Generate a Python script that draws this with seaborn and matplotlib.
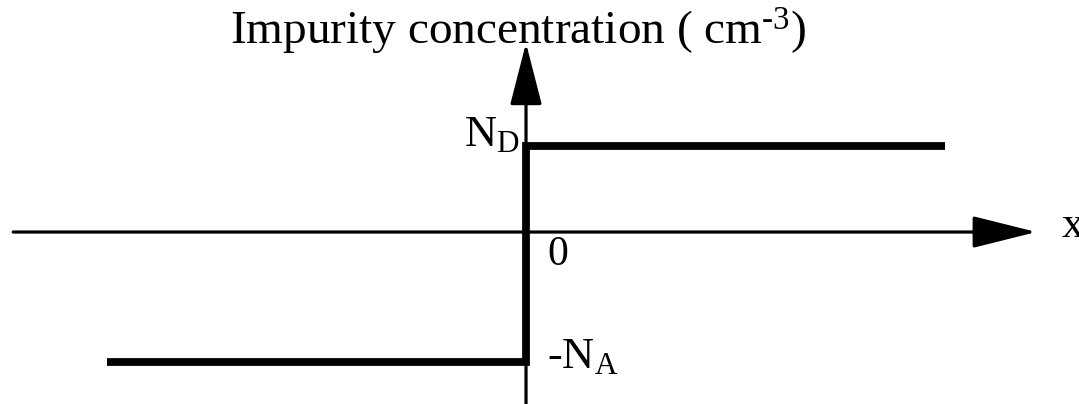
import matplotlib
matplotlib.use("Agg")
import matplotlib.pyplot as plt
import seaborn as sns
import pandas as pd

# ---- data (relative units) ----
position = [-1.0, 0.0, 0.0, 1.0]          # x position (junction at 0)
concentration = [-1.5, -1.5, 1.0, 1.0]    # -N_A on p side, N_D on n side
N_D = 1.0
N_A = 1.5
title_text = r"Impurity concentration ( cm$^{\text{-}3}$)"
label_ND = r"N$_\mathrm{D}$"
label_NA = r"-N$_\mathrm{A}$"
label_zero = "0"
label_x = "x"

sns.set_style("white")
plt.rcParams["font.family"] = ["Liberation Serif", "DejaVu Serif"]
plt.rcParams["mathtext.fontset"] = "custom"
plt.rcParams["mathtext.rm"] = "Liberation Serif"
plt.rcParams["mathtext.it"] = "Liberation Serif:italic"
plt.rcParams["text.color"] = "black"

fig = plt.figure(figsize=(10.79, 4.04), dpi=100)
ax = fig.add_axes([0, 0, 1, 1])
ax.set_xlim(-1.2554, 1.3198)
ax.set_ylim(-1.988, 2.682)
ax.axis("off")

# axes with arrows
ax.annotate("", xy=(1.218, 0), xytext=(-1.224, 0),
            arrowprops=dict(arrowstyle="-|>,head_length=4.0,head_width=1.0",
                            lw=2.3, color="black", shrinkA=0, shrinkB=0,
                            mutation_scale=10))
ax.annotate("", xy=(0, 2.185), xytext=(0, -1.99),
            arrowprops=dict(arrowstyle="-|>,head_length=3.9,head_width=1.0",
                            lw=2.3, color="black", shrinkA=0, shrinkB=0,
                            mutation_scale=10))

df = pd.DataFrame({"x": position, "N": concentration})
sns.lineplot(data=df, x="x", y="N", sort=False, estimator=None,
             color="black", lw=5.6, ax=ax, solid_joinstyle="miter",
             solid_capstyle="butt")
ax.set_xlim(-1.2554, 1.3198)
ax.set_ylim(-1.988, 2.682)

ax.text(-0.019, 2.162, title_text, ha="center", va="baseline", fontsize=34,
        color="black")
ax.text(-0.014, N_D, label_ND, ha="right", va="baseline", fontsize=32,
        color="black")
ax.text(0.050, -0.382, label_zero, ha="left", va="baseline", fontsize=30,
        color="black")
ax.text(0.050, -N_A - 0.072, label_NA, ha="left", va="baseline", fontsize=32,
        color="black")
ax.text(1.279, -0.058, label_x, ha="left", va="baseline", fontsize=32,
        color="black")

fig.savefig("out.png", dpi=100)
